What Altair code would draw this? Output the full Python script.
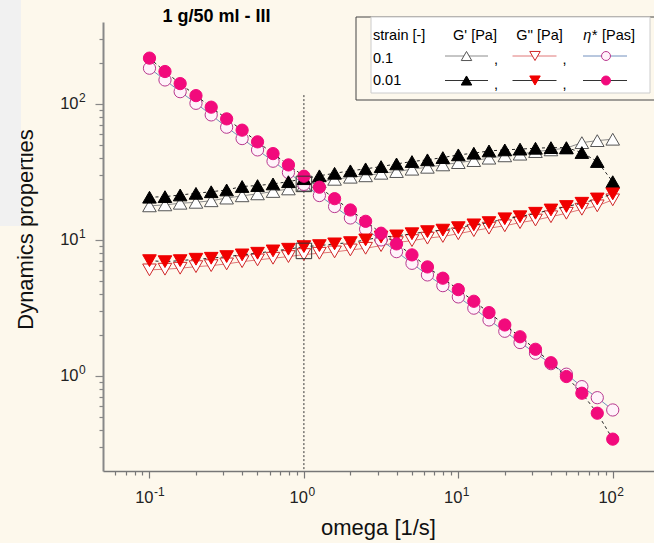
import altair as alt
import pandas as pd

FONT = "Liberation Sans"
BG = "#FDF8EC"

# ---------------- data ----------------
omega = [0.1, 0.126, 0.158, 0.2, 0.251, 0.316, 0.398, 0.501, 0.631, 0.794,
         1.0, 1.26, 1.58, 2.0, 2.51, 3.16, 3.98, 5.01, 6.31, 7.94,
         10.0, 12.6, 15.8, 20.0, 25.1, 31.6, 39.8, 50.1, 63.1, 79.4, 100.0]

# strain 0.1 (open markers)
g1_s01 = [17.8, 18.1, 18.6, 18.9, 19.4, 20.3, 21.1, 21.8, 22.7, 23.7,
          25.3, 26.8, 27.9, 28.9, 29.6, 30.9, 31.8, 33.1, 34.2, 35.6,
          37.0, 38.3, 39.9, 41.5, 42.7, 44.6, 45.9, 47.3, 51.9, 53.7, 55.0]
g2_s01 = [6.02, 6.09, 6.19, 6.36, 6.47, 6.66, 6.92, 7.13, 7.33, 7.54,
          7.8, 7.98, 8.16, 8.44, 8.68, 9.08, 9.55, 9.88, 10.3, 10.6,
          11.1, 11.7, 12.2, 12.7, 13.4, 14.0, 14.8, 15.7, 16.8, 17.8, 19.7]
eta_s01 = [183, 150, 123, 101, 83, 67.4, 55.6, 45.9, 37.9, 31.3,
           25.6, 21.2, 17.6, 14.5, 12.0, 10.0, 8.2, 6.73, 5.53, 4.61,
           3.81, 3.15, 2.58, 2.13, 1.76, 1.47, 1.23, 1.03, 0.834, 0.692, 0.562]

# strain 0.01 (filled markers)
g1_s001 = [20.6, 20.8, 21.4, 22.0, 22.6, 23.3, 24.7, 25.1, 25.8, 26.8,
           28.2, 29.6, 30.9, 32.2, 33.3, 34.6, 36.2, 37.7, 38.8, 40.3,
           42.2, 43.4, 45.1, 45.9, 46.5, 47.2, 47.7, 47.7, 43.9, 37.7, 26.8]
g2_s001 = [7.04, 6.92, 7.04, 7.21, 7.33, 7.54, 7.76, 7.98, 8.30, 8.54,
           8.93, 9.08, 9.35, 9.55, 10.0, 10.5, 10.7, 11.1, 11.5, 11.8,
           12.3, 12.9, 13.4, 14.3, 14.8, 15.7, 16.6, 17.6, 18.6, 20.0, 21.8]
eta_s001 = [217, 173, 141, 115, 94.6, 77.6, 64.1, 52.6, 43.1, 35.6,
            29.4, 24.4, 20.1, 16.6, 13.7, 11.2, 9.35, 7.76, 6.33, 5.23,
            4.31, 3.54, 2.92, 2.37, 1.94, 1.57, 1.25, 0.99, 0.746, 0.532, 0.343]

# highlighted points at omega = 1 (squares)
box_omega = [1.0, 1.0]
box_value = [25.8, 8.3]

# vertical dotted marker line at omega = 1
vline_omega = [1.0]
vline_top = [116.0]
vline_bottom = [0.2]

# axes
x_domain = [0.05, 185]
y_domain = [0.2, 400]
x_ticks = [0.06, 0.07, 0.08, 0.09,
           0.1, 0.2, 0.3, 0.4, 0.5, 0.6, 0.7, 0.8, 0.9,
           1, 2, 3, 4, 5, 6, 7, 8, 9,
           10, 20, 30, 40, 50, 60, 70, 80, 90, 100]
y_ticks = [0.3, 0.4, 0.5, 0.6, 0.7, 0.8, 0.9,
           1, 2, 3, 4, 5, 6, 7, 8, 9,
           10, 20, 30, 40, 50, 60, 70, 80, 90,
           100, 200, 300]
x_label_values = [0.1, 1, 10, 100]
x_label_exps = ["-1", "0", "1", "2"]
y_label_values = [1, 10, 100]
y_label_exps = ["0", "1", "2"]
major_test = "datum.value === 0.1 || datum.value === 1 || datum.value === 10 || datum.value === 100"

W, H = 551, 449
LEFT, TOP = 103, 22

xs = alt.Scale(type="log", domain=x_domain, nice=False)
ys = alt.Scale(type="log", domain=y_domain, nice=False)

x_axis = alt.Axis(values=x_ticks, labels=False, grid=False,
                  tickSize={"condition": {"test": major_test, "value": 7}, "value": 4},
                  domainColor="#777", domainWidth=1.5, tickColor="#777", tickWidth=1.2,
                  title="omega [1/s]", titleFont=FONT, titleFontSize=22, titleFontWeight="normal",
                  titleColor="#111", titleX=275, titleY=56, titleBaseline="middle", titleAlign="center")
y_axis = alt.Axis(values=y_ticks, labels=False, grid=False,
                  tickSize={"condition": {"test": major_test, "value": 8}, "value": 4},
                  domainColor="#888", domainWidth=2, tickColor="#888", tickWidth=1.2,
                  title="Dynamics properties", titleFont=FONT, titleFontSize=22,
                  titleFontWeight="normal", titleColor="#111",
                  titleX=-78, titleY=207, titleBaseline="middle", titleAlign="center", titleAngle=270)

X = lambda f: alt.X(f, scale=xs, axis=x_axis)
Y = lambda f: alt.Y(f, scale=ys, axis=y_axis)


def sdf(vals):
    return pd.DataFrame({"omega": omega, "value": vals})


def enc(ch):
    return ch.encode(x=X("omega:Q"), y=Y("value:Q"))


def line(vals, color, dash=None):
    kw = dict(color=color, strokeWidth=1)
    if dash:
        kw["strokeDash"] = dash
    return enc(alt.Chart(sdf(vals)).mark_line(**kw))


def pts(vals, shape, size, fill, stroke, sw=1):
    return enc(alt.Chart(sdf(vals)).mark_point(shape=shape, size=size, filled=True, fill=fill,
                                               stroke=stroke, strokeWidth=sw, opacity=1))


one = pd.DataFrame({"k": [0]})


def txt(s, x, y, size=14.5, align="left", style="normal", weight="normal"):
    return alt.Chart(one).mark_text(text=s, align=align, baseline="middle", fontSize=size,
                                    font=FONT, fontStyle=style, fontWeight=weight,
                                    color="black").encode(x=alt.value(x), y=alt.value(y))


def seg(x1, x2, y, color):
    return alt.Chart(one).mark_rule(color=color, strokeWidth=1).encode(
        x=alt.value(x1), x2=alt.value(x2), y=alt.value(y))


def sym(x, y, shape, size, fill, stroke):
    return alt.Chart(one).mark_point(shape=shape, size=size, filled=True, fill=fill,
                                     stroke=stroke, strokeWidth=1, opacity=1).encode(
        x=alt.value(x), y=alt.value(y))


def rect(x1, x2, y1, y2, fill, stroke=None):
    kw = dict(fill=fill)
    if stroke:
        kw.update(stroke=stroke, strokeWidth=1)
    else:
        kw.update(strokeWidth=0)
    return alt.Chart(one).mark_rect(**kw).encode(
        x=alt.value(x1), x2=alt.value(x2), y=alt.value(y1), y2=alt.value(y2))


# tick labels "10" with raised exponent, placed through the scales
xl = pd.DataFrame({"v": x_label_values, "e": x_label_exps})
yl = pd.DataFrame({"v": y_label_values, "e": y_label_exps})
tick_label_layers = [
    alt.Chart(xl).mark_text(text="10", align="right", baseline="middle", dx=4, fontSize=16.5,
                            font=FONT, color="#222").encode(x=X("v:Q"), y=alt.value(H + 27)),
    alt.Chart(xl).mark_text(align="left", baseline="middle", dx=4.5, fontSize=12,
                            font=FONT, color="#222").encode(x=X("v:Q"), y=alt.value(H + 21), text="e:N"),
    alt.Chart(yl).mark_text(text="10", align="right", baseline="middle", fontSize=16.5,
                            font=FONT, color="#222").encode(x=alt.value(-24.5), y=Y("v:Q")),
    alt.Chart(yl).mark_text(align="left", baseline="middle", dy=-6, fontSize=12,
                            font=FONT, color="#222").encode(x=alt.value(-24), y=Y("v:Q"), text="e:N"),
]

# colours
C_G1_LINE = "#8C8C8C"
C_G2_LINE = "#E07878"
C_ETA_LINE = "#7390BE"
C_DARK = "#222222"
C_PINK = "#F20A7C"
C_PINK_EDGE = "#B8388E"
C_RED = "#F00000"
C_RED_EDGE = "#D02828"

TRI = 185
CIR = 150

strip = rect(0 - LEFT, 21 - LEFT, 0 - TOP, 226 - TOP, "#F1F1F1")

vline = alt.Chart(pd.DataFrame({"omega": vline_omega, "top": vline_top, "bottom": vline_bottom})).mark_rule(
    color="#333", strokeWidth=1, strokeDash=[2, 2]).encode(
    x=X("omega:Q"), y=Y("top:Q"), y2="bottom:Q")

layers = [
    strip, vline,
    line(g1_s01, C_G1_LINE), line(g2_s01, C_G2_LINE), line(eta_s01, C_ETA_LINE),
    pts(g1_s01, "triangle-up", TRI, "white", "#555555"),
    pts(g2_s01, "triangle-down", TRI, "white", C_RED_EDGE),
    pts(eta_s01, "circle", CIR, "#FFF3FA", C_PINK_EDGE),
    line(g1_s001, C_DARK, [3, 3]), line(g2_s001, C_DARK, [3, 3]), line(eta_s001, C_DARK, [3, 3]),
    pts(g1_s001, "triangle-up", TRI, "black", "black"),
    pts(g2_s001, "triangle-down", TRI, C_RED, C_RED),
    pts(eta_s001, "circle", CIR, C_PINK, C_PINK),
    enc(alt.Chart(pd.DataFrame({"omega": box_omega, "value": box_value})).mark_point(
        shape="square", size=240, filled=False, stroke="#333", strokeWidth=1, opacity=1)),
    txt("1 g/50 ml - III", 216.5 - LEFT, 17 - TOP, size=18, align="center", weight="bold"),
] + tick_label_layers

# custom legend (pixel layout)
L = lambda px: px - LEFT
T = lambda py: py - TOP
layers += [
    rect(L(356), L(656), T(17), T(100), BG, "#444444"),
    rect(L(371), L(650), T(17), T(93), "#FFFFFF", "#CCCCCC"),
    txt("strain [-]", L(373), T(35.5)),
    txt("G' [Pa]", L(475), T(35.5), align="center"),
    txt("G'' [Pa]", L(539.5), T(35.5), align="center"),
    txt("\u03b7*", L(597), T(35.5), align="right", style="italic"),
    txt("[Pas]", L(602), T(35.5)),
    txt("0.1", L(373), T(58.5)),
    txt("0.01", L(373), T(81)),
    # row 0.1
    seg(L(445), L(488), T(56), C_G1_LINE),
    sym(L(466.5), T(56), "triangle-up", 110, "white", "#555555"),
    txt(",", L(494), T(60)),
    seg(L(512.5), L(556.5), T(56), C_G2_LINE),
    sym(L(535), T(56), "triangle-down", 110, "white", C_RED_EDGE),
    txt(",", L(562.5), T(60)),
    seg(L(583), L(627), T(56), C_ETA_LINE),
    sym(L(606), T(56), "circle", 80, "#FFF3FA", C_PINK_EDGE),
    # row 0.01
    seg(L(445), L(488), T(80.5), "#333333"),
    sym(L(466.5), T(80.5), "triangle-up", 110, "black", "black"),
    txt(",", L(494), T(84.5)),
    seg(L(512.5), L(556.5), T(80.5), "#333333"),
    sym(L(535), T(80.5), "triangle-down", 110, C_RED, C_RED),
    txt(",", L(562.5), T(84.5)),
    seg(L(583), L(627), T(80.5), "#333333"),
    sym(L(606), T(80.5), "circle", 80, C_PINK, C_PINK),
]

chart = alt.layer(*layers).properties(
    width=W, height=H,
    autosize=alt.AutoSizeParams(type="none"),
    padding={"left": LEFT, "top": TOP, "right": 0, "bottom": 543 - TOP - H},
    background=BG,
).configure_view(stroke=None)

chart.save("out.html", embed_options={"renderer": "svg", "actions": False})
